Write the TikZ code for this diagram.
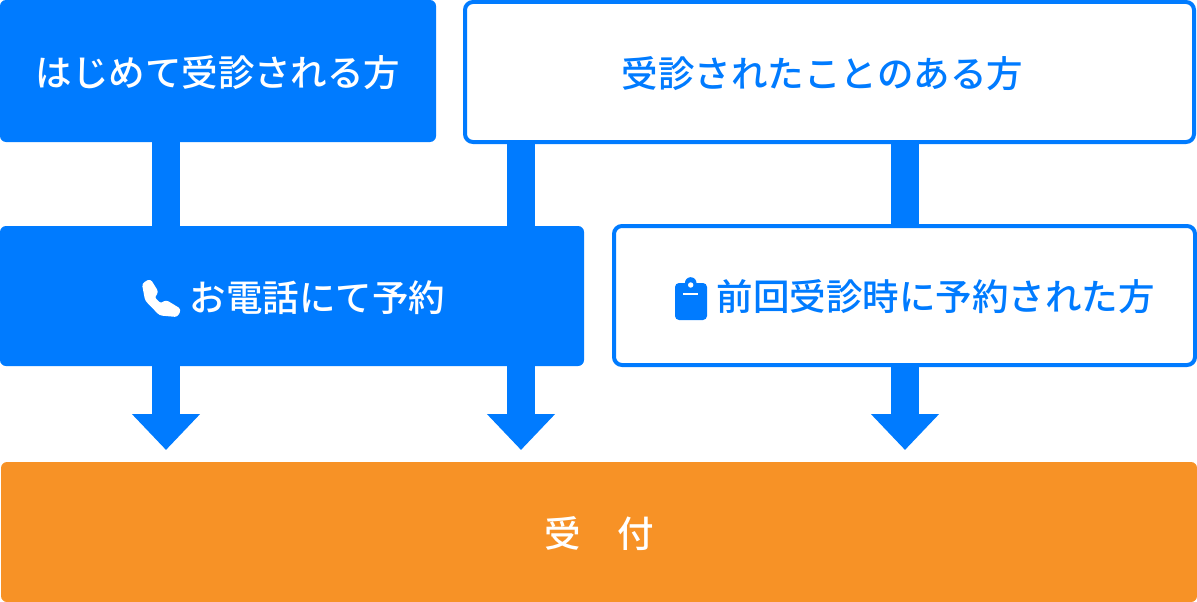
\documentclass[tikz,border=0pt]{standalone}
\usepackage{fontspec}
\usetikzlibrary{arrows.meta,calc}
\newfontfamily\cjk{Noto Sans CJK JP Medium}
\definecolor{mainblue}{HTML}{007BFF}
\definecolor{mainorange}{HTML}{F79226}
\tikzset{
  basebox/.style={rectangle,rounded corners=6pt,inner sep=0pt,text height=30.5pt,text depth=0pt,font=\cjk\fontsize{36.5}{36.5}\selectfont},
  solidbox/.style={basebox,fill=mainblue,text=white},
  outlinebox/.style={basebox,draw=mainblue,line width=4pt,fill=white,text=mainblue,rounded corners=8pt},
  orangebox/.style={basebox,fill=mainorange,text=white},
  bar/.style={mainblue,line width=28pt},
  bararrow/.style={mainblue,line width=28pt,-{Triangle[length=36pt,width=66pt]}},
}
\begin{document}
\begin{tikzpicture}[x=1pt,y=-1pt]
\useasboundingbox (0,0) rectangle (1197,602);
% free ends of the arrows
\coordinate (endA) at (166,450);
\coordinate (endB) at (521,450);
\coordinate (endC) at (905,450);
\node[solidbox,minimum width=436pt,minimum height=142pt] (first) at (218,71) {はじめて受診される方};
\node[outlinebox,minimum width=729pt,minimum height=140pt] (repeat) at (829.5,72) {受診されたことのある方\hspace*{14pt}};
\node[solidbox,minimum width=584pt,minimum height=140pt] (phone) at (292,296) {\hspace*{51pt}お電話にて予約};
\node[outlinebox,minimum width=581pt,minimum height=139pt] (previous) at (904.5,295.5) {\hspace*{62pt}前回受診時に予約された方};
\node[orangebox,minimum width=1196pt,minimum height=140pt] (reception) at (599,532) {受　付};
\draw[bar] (first.south -| endA) -- (phone.north -| endA);
\draw[bar] (repeat.south -| endB) -- (phone.north -| endB);
\draw[bar] (repeat.south -| endC) -- (previous.north -| endC);
\draw[bararrow] (phone.south -| endA) -- (endA);
\draw[bararrow] (phone.south -| endB) -- (endB);
\draw[bararrow] (previous.south -| endC) -- (endC);
% phone icon
\fill[white,draw=white,line width=2pt,line join=round,rounded corners=2.5pt] (143,284) -- (150,280) -- (157.5,292) -- (153.5,297.5) -- (160.5,304.5) -- (166,301) -- (180,309.5) -- (177,316) -- (160,314.5) -- (146,300) -- cycle;
% clipboard icon
\fill[mainblue,rounded corners=4pt] (675,283) rectangle (707,320);
\fill[mainblue] (690.7,283) circle (5.8pt);
\fill[white] (690.7,285) circle (2.7pt);
\fill[white] (683,293.3) rectangle (698,295.3);
\end{tikzpicture}
\end{document}
